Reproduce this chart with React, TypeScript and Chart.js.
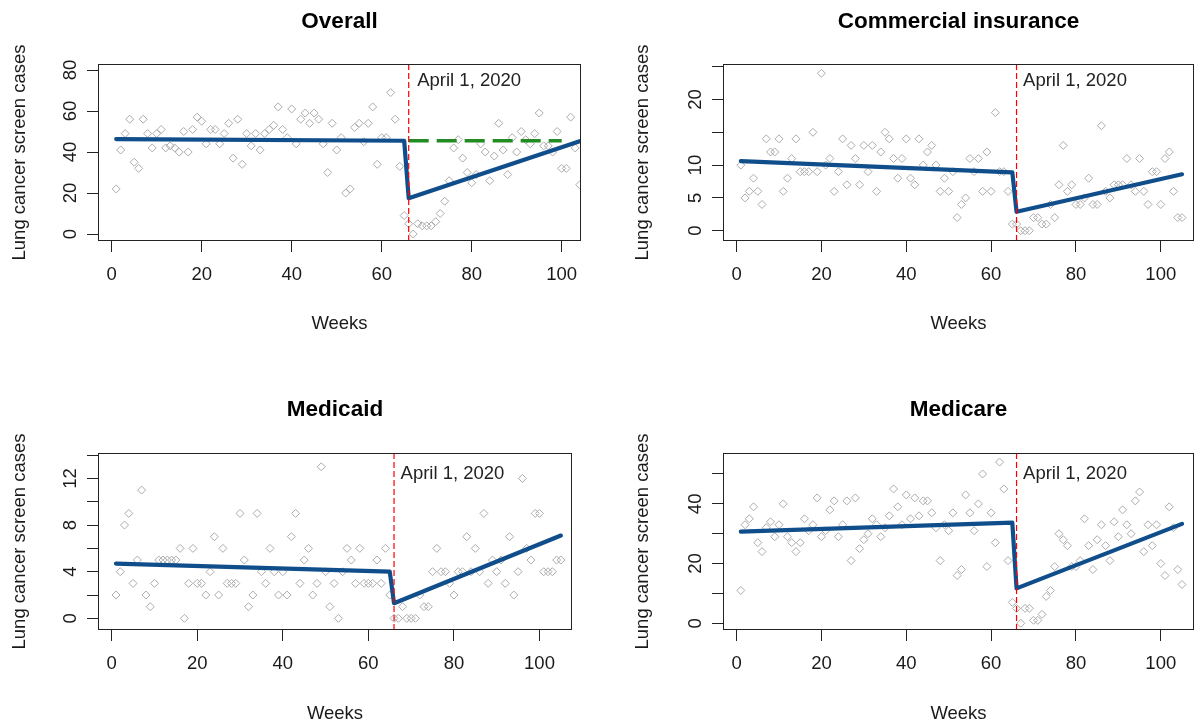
import React, { useEffect, useRef } from "react";
import { Chart, registerables } from "chart.js";

Chart.register(...registerables);

// ---------------- data ----------------
const BREAK_WEEK = 66;
const X_TICKS = [0, 20, 40, 60, 80, 100];

const OVERALL_CASES = [
  22, 41, 49, 56, 35, 32, 56, 49, 42, 49, 51, 42, 43, 42, 40, 50, 40, 51, 57, 55,
  44, 51, 51, 44, 49, 54, 37, 56, 34, 49, 43, 49, 41, 49, 51, 53, 62, 51, 47, 61,
  44, 56, 59, 54, 59, 56, 44, 30, 54, 41, 47, 20, 22, 52, 54, 45, 54, 62, 34, 47,
  47, 69, 56, 33, 9, 5, 0, 5, 4, 4, 4, 6, 10, 16, 26, 42, 46, 37, 30, 25,
  29, 44, 40, 26, 38, 54, 41, 29, 47, 40, 50, 46, 44, 49, 59, 43, 43, 40, 50, 32,
  32, 57, 42, 24,
];
const COMMERCIAL_CASES = [
  10, 5, 6, 8, 6, 4, 14, 12, 12, 14, 6, 8, 11, 14, 9, 9, 9, 15, 9, 24,
  10, 11, 6, 9, 14, 7, 13, 11, 7, 13, 9, 13, 6, 12, 15, 14, 11, 8, 11, 14,
  8, 7, 14, 10, 12, 13, 10, 6, 8, 6, 9, 2, 4, 5, 11, 9, 11, 6, 12, 6,
  18, 9, 9, 6, 1, 1, 0, 0, 0, 2, 2, 1, 1, 4, 2, 7, 13, 6, 7, 4,
  4, 5, 8, 4, 4, 16, 6, 5, 7, 7, 7, 11, 7, 6, 11, 6, 4, 9, 9, 4,
  11, 12, 6, 2, 2,
];
const MEDICAID_CASES = [
  2, 4, 8, 9, 3, 5, 11, 2, 1, 3, 5, 5, 5, 5, 5, 6, 0, 3, 6, 3,
  3, 2, 4, 7, 2, 6, 3, 3, 3, 9, 5, 1, 2, 9, 4, 3, 6, 4, 2, 4,
  2, 7, 9, 3, 5, 6, 2, 3, 13, 4, 1, 3, 0, 4, 6, 5, 3, 6, 3, 3,
  3, 5, 3, 6, 2, 0, 0, 1, 0, 0, 0, 2, 1, 1, 4, 6, 4, 4, 3, 2,
  4, 4, 7, 4, 6, 4, 9, 3, 5, 4, 5, 3, 7, 2, 4, 12, 6, 5, 9, 9,
  4, 4, 4, 5, 5,
];
const MEDICARE_CASES = [
  11, 33, 35, 39, 27, 24, 32, 34, 29, 33, 40, 29, 27, 24, 27, 35, 31, 33, 42, 29,
  31, 38, 41, 29, 33, 41, 21, 42, 25, 28, 30, 35, 33, 29, 32, 36, 45, 39, 33, 43,
  35, 42, 36, 41, 41, 37, 32, 21, 33, 31, 37, 16, 18, 43, 37, 31, 40, 50, 19, 37,
  27, 54, 45, 21, 7, 5, 0, 5, 5, 1, 1, 3, 9, 11, 19, 30, 28, 26, 19, 19,
  21, 35, 26, 18, 28, 33, 26, 21, 34, 29, 38, 33, 30, 41, 44, 24, 33, 26, 33, 20,
  16, 39, 32, 18, 13,
];

// segmented-regression fitted line (week, fitted value)
const OVERALL_FIT_WEEKS = [1, 65, 66, 104];
const OVERALL_FIT_VALUES = [46.3, 45.5, 17.5, 45.3];
const OVERALL_CF_WEEKS = [66, 100];
const OVERALL_CF_VALUES = [45.5, 45.5];
const COMMERCIAL_FIT_WEEKS = [1, 65, 66, 105];
const COMMERCIAL_FIT_VALUES = [10.6, 8.9, 2.9, 8.6];
const MEDICAID_FIT_WEEKS = [1, 65, 66, 105];
const MEDICAID_FIT_VALUES = [4.7, 4.0, 1.3, 7.1];
const MEDICARE_FIT_WEEKS = [1, 65, 66, 105];
const MEDICARE_FIT_VALUES = [30.7, 33.7, 11.7, 33.3];

const OVERALL_Y_TICKS = [0, 20, 40, 60, 80];
const OVERALL_Y_LABELS = [0, 20, 40, 60, 80];
const COMMERCIAL_Y_TICKS = [0, 5, 10, 15, 20, 25];
const COMMERCIAL_Y_LABELS = [0, 5, 10, 20];
const MEDICAID_Y_TICKS = [0, 2, 4, 6, 8, 10, 12, 14];
const MEDICAID_Y_LABELS = [0, 4, 8, 12];
const MEDICARE_Y_TICKS = [0, 10, 20, 30, 40, 50];
const MEDICARE_Y_LABELS = [0, 20, 40];

const EVENT_LABEL = "April 1, 2020";
const X_TITLE = "Weeks";
const Y_TITLE = "Lung cancer screen cases";

// ---------------- styles ----------------
const FONT = "'Liberation Sans', Arial, Helvetica, sans-serif";
const TEXT_COLOR = "#1a1a1a";
const BLUE = "#104E8B";
const GREEN = "#228B22";
const RED = "#FF0000";
const POINT_GRAY = "#ababab";

type PanelSpec = {
  title: string;
  left: number;
  top: number;
  width: number;
  height: number;
  area: { l: number; t: number; r: number; b: number };
  xMin: number;
  xMax: number;
  yMin: number;
  yMax: number;
  yTicks: number[];
  yLabels: number[];
  cases: number[];
  fitWeeks: number[];
  fitValues: number[];
  cfWeeks?: number[];
  cfValues?: number[];
  titleBase: number;
  xTitleBase: number;
  yTitleX: number;
  eventDx: number;
  eventBase: number;
};

const PANELS: PanelSpec[] = [
  {
    title: "Overall",
    left: 0, top: 0, width: 600, height: 362,
    area: { l: 98, t: 64, r: 581, b: 241 },
    xMin: -3.04, xMax: 104.29, yMin: -3.41, yMax: 82.93,
    yTicks: OVERALL_Y_TICKS, yLabels: OVERALL_Y_LABELS,
    cases: OVERALL_CASES,
    fitWeeks: OVERALL_FIT_WEEKS, fitValues: OVERALL_FIT_VALUES,
    cfWeeks: OVERALL_CF_WEEKS, cfValues: OVERALL_CF_VALUES,
    titleBase: 28, xTitleBase: 329, yTitleX: 25, eventDx: 8.5, eventBase: 85.5,
  },
  {
    title: "Commercial insurance",
    left: 600, top: 0, width: 599, height: 362,
    area: { l: 123, t: 64, r: 598, b: 241 },
    xMin: -3.2, xMax: 107.83, yMin: -1.57, yMax: 25.41,
    yTicks: COMMERCIAL_Y_TICKS, yLabels: COMMERCIAL_Y_LABELS,
    cases: COMMERCIAL_CASES,
    fitWeeks: COMMERCIAL_FIT_WEEKS, fitValues: COMMERCIAL_FIT_VALUES,
    titleBase: 28, xTitleBase: 329, yTitleX: 48, eventDx: 6.5, eventBase: 85.5,
  },
  {
    title: "Medicaid",
    left: 0, top: 362, width: 600, height: 363,
    area: { l: 98, t: 91, r: 572, b: 268 },
    xMin: -3.2, xMax: 107.6, yMin: -1.0, yMax: 14.18,
    yTicks: MEDICAID_Y_TICKS, yLabels: MEDICAID_Y_LABELS,
    cases: MEDICAID_CASES,
    fitWeeks: MEDICAID_FIT_WEEKS, fitValues: MEDICAID_FIT_VALUES,
    titleBase: 54, xTitleBase: 357, yTitleX: 25, eventDx: 6.5, eventBase: 116.5,
  },
  {
    title: "Medicare",
    left: 600, top: 362, width: 599, height: 363,
    area: { l: 123, t: 91, r: 598, b: 268 },
    xMin: -3.2, xMax: 107.83, yMin: -2.24, yMax: 57.03,
    yTicks: MEDICARE_Y_TICKS, yLabels: MEDICARE_Y_LABELS,
    cases: MEDICARE_CASES,
    fitWeeks: MEDICARE_FIT_WEEKS, fitValues: MEDICARE_FIT_VALUES,
    titleBase: 54, xTitleBase: 357, yTitleX: 48, eventDx: 6.5, eventBase: 116.5,
  },
];

function pairs(xs: number[], ys: number[]) {
  return xs.map((x, i) => ({ x, y: ys[i] }));
}

function Panel({ spec }: { spec: PanelSpec }) {
  const ref = useRef<HTMLCanvasElement | null>(null);

  useEffect(() => {
    const canvas = ref.current;
    if (!canvas) return;

    const decor = {
      id: "decor",
      afterDraw(chart: any) {
        const ctx = chart.ctx as CanvasRenderingContext2D;
        const a = chart.chartArea;
        const xs = chart.scales.x;
        ctx.save();
        // box
        ctx.strokeStyle = "#222";
        ctx.lineWidth = 1;
        ctx.strokeRect(Math.round(a.left) + 0.5, Math.round(a.top) + 0.5,
          Math.round(a.right - a.left) - 1, Math.round(a.bottom - a.top) - 1);
        // event label
        ctx.fillStyle = "#222";
        ctx.font = `18.5px ${FONT}`;
        ctx.textAlign = "left";
        ctx.textBaseline = "alphabetic";
        ctx.fillText(EVENT_LABEL, xs.getPixelForValue(BREAK_WEEK) + spec.eventDx, spec.eventBase);
        // title
        const cx = (a.left + a.right) / 2;
        ctx.fillStyle = "#000";
        ctx.font = `bold 22.5px ${FONT}`;
        ctx.textAlign = "center";
        ctx.fillText(spec.title, cx, spec.titleBase);
        // x title
        ctx.fillStyle = TEXT_COLOR;
        ctx.font = `18.5px ${FONT}`;
        ctx.fillText(X_TITLE, cx, spec.xTitleBase);
        // y title
        ctx.translate(spec.yTitleX, (a.top + a.bottom) / 2);
        ctx.rotate(-Math.PI / 2);
        ctx.textAlign = "center";
        ctx.fillText(Y_TITLE, 0, 0);
        ctx.restore();
      },
    };

    const datasets: any[] = [
      {
        label: "event",
        data: [
          { x: BREAK_WEEK, y: spec.yMin },
          { x: BREAK_WEEK, y: spec.yMax },
        ],
        showLine: true,
        borderColor: RED,
        borderWidth: 1.2,
        borderDash: [6, 3],
        pointRadius: 0,
        order: 0,
      },
      {
        label: "fit",
        data: pairs(spec.fitWeeks, spec.fitValues),
        showLine: true,
        borderColor: BLUE,
        borderWidth: 4.2,
        borderCapStyle: "round",
        borderJoinStyle: "round",
        pointRadius: 0,
        order: 2,
      },
      {
        label: "cases",
        data: spec.cases.map((v, i) => ({ x: i + 1, y: v })),
        showLine: false,
        pointStyle: "rectRot",
        pointRadius: 4,
        borderWidth: 1,
        borderColor: POINT_GRAY,
        backgroundColor: "rgba(0,0,0,0)",
        order: 3,
      },
    ];
    if (spec.cfWeeks && spec.cfValues) {
      datasets.push({
        label: "counterfactual",
        data: pairs(spec.cfWeeks, spec.cfValues),
        showLine: true,
        borderColor: GREEN,
        borderWidth: 3.5,
        borderDash: [20, 8],
        pointRadius: 0,
        order: 1,
      });
    }

    const tickFont = { family: FONT, size: 18.5 };
    const chart = new Chart(canvas, {
      type: "scatter",
      data: { datasets },
      options: {
        animation: false,
        responsive: false,
        events: [],
        layout: {
          padding: { left: 0, top: spec.area.t, right: spec.width - spec.area.r, bottom: 0 },
        },
        plugins: {
          legend: { display: false },
          tooltip: { enabled: false },
          title: { display: false },
        },
        scales: {
          x: {
            type: "linear",
            min: spec.xMin,
            max: spec.xMax,
            afterBuildTicks: (s: any) => {
              s.ticks = X_TICKS.map((v) => ({ value: v }));
            },
            afterFit: (s: any) => {
              s.height = spec.height - spec.area.b;
            },
            border: { display: false },
            grid: {
              display: true,
              drawOnChartArea: false,
              drawTicks: true,
              tickLength: 11,
              tickColor: "#222",
              tickWidth: 1,
            },
            ticks: {
              font: tickFont,
              color: TEXT_COLOR,
              padding: 12,
              minRotation: 0,
              maxRotation: 0,
              autoSkip: false,
              callback: (v: any) => String(v),
            },
          },
          y: {
            type: "linear",
            min: spec.yMin,
            max: spec.yMax,
            afterBuildTicks: (s: any) => {
              s.ticks = spec.yTicks.map((v) => ({ value: v }));
            },
            afterFit: (s: any) => {
              s.width = spec.area.l;
            },
            border: { display: false },
            grid: {
              display: true,
              drawOnChartArea: false,
              drawTicks: true,
              tickLength: 11,
              tickColor: "#222",
              tickWidth: 1,
            },
            ticks: {
              font: tickFont,
              color: TEXT_COLOR,
              padding: 6,
              minRotation: 90,
              maxRotation: 90,
              crossAlign: "center",
              autoSkip: false,
              callback: (v: any) => (spec.yLabels.includes(Number(v)) ? String(v) : ""),
            },
          },
        },
      } as any,
      plugins: [decor],
    });
    return () => chart.destroy();
  }, [spec]);

  return (
    <canvas
      ref={ref}
      width={spec.width}
      height={spec.height}
      style={{
        position: "absolute",
        left: spec.left,
        top: spec.top,
        width: spec.width,
        height: spec.height,
      }}
    />
  );
}

export default function App() {
  return (
    <div
      style={{
        position: "absolute",
        left: 0,
        top: 0,
        width: 1199,
        height: 725,
        background: "#ffffff",
        overflow: "hidden",
      }}
    >
      {PANELS.map((p) => (
        <Panel key={p.title} spec={p} />
      ))}
    </div>
  );
}
